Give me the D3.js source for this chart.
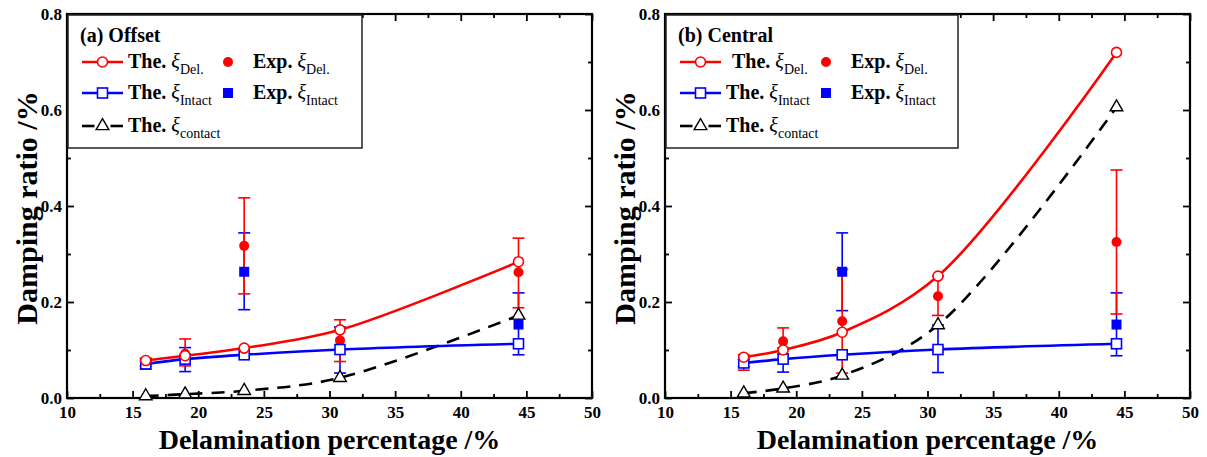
<!DOCTYPE html>
<html>
<head>
<meta charset="utf-8">
<script src="https://cdn.jsdelivr.net/npm/d3@7"></script>
<style>
  body { margin: 0; background: #fff; }
  svg text { font-family: "Liberation Serif", "Times New Roman", serif; }
</style>
</head>
<body>
<script>
// delamination percentages (x)
var delamX = [16.0, 19.0, 23.5, 30.8, 44.4];

// (a) Offset
var offTheDel = [0.078, 0.088, 0.104, 0.142, 0.284];
var offTheIntact = [0.071, 0.081, 0.090, 0.101, 0.113];
var offTheContact = [0.004, 0.008, 0.015, 0.042, 0.172];
var offExpDel = [0.075, 0.092, 0.317, 0.120, 0.262];
var offExpDelLo = [0.060, 0.067, 0.217, 0.076, 0.188];
var offExpDelHi = [0.083, 0.123, 0.417, 0.163, 0.333];
var offExpIntact = [0.071, 0.083, 0.263, 0.100, 0.153];
var offExpIntactLo = [0.066, 0.055, 0.184, 0.052, 0.090];
var offExpIntactHi = [0.078, 0.105, 0.344, 0.148, 0.219];

// (b) Central
var cenTheDel = [0.085, 0.100, 0.137, 0.254, 0.720];
var cenTheIntact = [0.073, 0.081, 0.090, 0.101, 0.113];
var cenTheContact = [0.010, 0.020, 0.047, 0.152, 0.606];
var cenExpDel = [0.082, 0.118, 0.160, 0.212, 0.325];
var cenExpDelLo = [0.058, 0.092, 0.052, 0.172, 0.175];
var cenExpDelHi = [0.090, 0.146, 0.268, 0.254, 0.475];
var cenExpIntact = [0.073, 0.082, 0.263, 0.100, 0.153];
var cenExpIntactLo = [0.065, 0.054, 0.182, 0.053, 0.088];
var cenExpIntactHi = [0.080, 0.104, 0.344, 0.152, 0.219];

var xTicks = [10, 15, 20, 25, 30, 35, 40, 45, 50];
var yTicks = [0.0, 0.2, 0.4, 0.6, 0.8];

var RED = "#ff0000", BLUE = "#0000ff";
var SERIF = "Liberation Serif, Times New Roman, serif";

var svg = d3.select("body").append("svg")
  .attr("width", 1207)
  .attr("height", 457)
  .attr("font-family", SERIF);

function zip(xs, ys) { return xs.map(function (x, i) { return [x, ys[i]]; }); }

function DrawPanel(left, title, legendW, firstRowShift, the, exp) {
  var top = 14, w = 525, h = 384;
  var g = svg.append("g").attr("transform", `translate(${left}, ${top})`);

  var x = d3.scaleLinear().domain([10, 50]).range([0, w]);
  var y = d3.scaleLinear().domain([0, 0.8]).range([h, 0]);

  // axes, ticks pointing in
  var minorX = d3.range(12.5, 50, 5);
  var minorY = [0.1, 0.3, 0.5, 0.7];

  g.append("g").attr("transform", `translate(0, ${h})`)
    .call(d3.axisBottom(x).tickValues(xTicks).tickSizeInner(-7).tickSizeOuter(0).tickPadding(8).tickFormat(d3.format("d")));
  g.append("g").attr("transform", `translate(0, ${h})`)
    .call(d3.axisBottom(x).tickValues(minorX).tickSizeInner(-4).tickSizeOuter(0).tickFormat(""));
  g.append("g").call(d3.axisTop(x).tickValues(xTicks).tickSizeInner(-7).tickSizeOuter(0).tickFormat(""));
  g.append("g").call(d3.axisTop(x).tickValues(minorX).tickSizeInner(-4).tickSizeOuter(0).tickFormat(""));

  g.append("g")
    .call(d3.axisLeft(y).tickValues(yTicks).tickSizeInner(-7).tickSizeOuter(0).tickPadding(5).tickFormat(d3.format(".1f")));
  g.append("g")
    .call(d3.axisLeft(y).tickValues(minorY).tickSizeInner(-4).tickSizeOuter(0).tickFormat(""));
  g.append("g").attr("transform", `translate(${w}, 0)`)
    .call(d3.axisRight(y).tickValues(yTicks).tickSizeInner(-7).tickSizeOuter(0).tickFormat(""));
  g.append("g").attr("transform", `translate(${w}, 0)`)
    .call(d3.axisRight(y).tickValues(minorY).tickSizeInner(-4).tickSizeOuter(0).tickFormat(""));

  g.selectAll(".domain").remove();
  g.selectAll("g").attr("font-family", SERIF);
  g.selectAll(".tick line").attr("stroke", "#000").attr("stroke-width", 1.8);
  g.selectAll(".tick text")
    .attr("font-family", SERIF)
    .attr("font-weight", "bold")
    .attr("font-size", "17px")
    .attr("fill", "#000");

  g.append("rect")
    .attr("width", w).attr("height", h)
    .attr("fill", "none").attr("stroke", "#000").attr("stroke-width", 2.2);

  // axis titles
  g.append("text")
    .attr("transform", `translate(${w / 2}, ${h + 51})`)
    .attr("text-anchor", "middle")
    .attr("font-family", SERIF)
    .attr("font-size", "28px").attr("font-weight", "bold")
    .text("Delamination percentage /%");
  g.append("text")
    .attr("transform", `translate(-30, ${h / 2 + 2}) rotate(-90)`)
    .attr("text-anchor", "middle")
    .attr("font-family", SERIF)
    .attr("font-size", "30px").attr("font-weight", "bold")
    .text("Damping ratio /%");

  // error bars
  function errBars(lo, hi, color) {
    var bars = g.append("g").attr("stroke", color).attr("stroke-width", 1.6);
    delamX.forEach(function (xv, i) {
      var px = x(xv);
      bars.append("line").attr("x1", px).attr("x2", px).attr("y1", y(lo[i])).attr("y2", y(hi[i]));
      bars.append("line").attr("x1", px - 6).attr("x2", px + 6).attr("y1", y(lo[i])).attr("y2", y(lo[i]));
      bars.append("line").attr("x1", px - 6).attr("x2", px + 6).attr("y1", y(hi[i])).attr("y2", y(hi[i]));
    });
  }
  errBars(exp.intactLo, exp.intactHi, BLUE);
  errBars(exp.delLo, exp.delHi, RED);

  g.selectAll(".expDel").data(zip(delamX, exp.del)).enter().append("circle")
    .attr("cx", d => x(d[0])).attr("cy", d => y(d[1])).attr("r", 5).attr("fill", RED);
  g.selectAll(".expInt").data(zip(delamX, exp.intact)).enter().append("rect")
    .attr("x", d => x(d[0]) - 5).attr("y", d => y(d[1]) - 5)
    .attr("width", 10).attr("height", 10).attr("fill", BLUE);

  // theory curves
  var line = d3.line().x(d => x(d[0])).y(d => y(d[1])).curve(d3.curveCatmullRom.alpha(0.5));

  g.append("path").datum(zip(delamX, the.contact)).attr("d", line)
    .attr("fill", "none").attr("stroke", "#000").attr("stroke-width", 2.6).attr("stroke-dasharray", "13,9");
  g.append("path").datum(zip(delamX, the.intact)).attr("d", line)
    .attr("fill", "none").attr("stroke", BLUE).attr("stroke-width", 2.6);
  g.append("path").datum(zip(delamX, the.del)).attr("d", line)
    .attr("fill", "none").attr("stroke", RED).attr("stroke-width", 2.6);

  var tri = d3.symbol().type(d3.symbolTriangle).size(70);
  g.selectAll(".theCon").data(zip(delamX, the.contact)).enter().append("path")
    .attr("d", tri).attr("transform", d => `translate(${x(d[0])}, ${y(d[1])})`)
    .attr("fill", "#fff").attr("stroke", "#000").attr("stroke-width", 1.4);
  g.selectAll(".theInt").data(zip(delamX, the.intact)).enter().append("rect")
    .attr("x", d => x(d[0]) - 5).attr("y", d => y(d[1]) - 5)
    .attr("width", 10).attr("height", 10)
    .attr("fill", "#fff").attr("stroke", BLUE).attr("stroke-width", 1.6);
  g.selectAll(".theDel").data(zip(delamX, the.del)).enter().append("circle")
    .attr("cx", d => x(d[0])).attr("cy", d => y(d[1])).attr("r", 5)
    .attr("fill", "#fff").attr("stroke", RED).attr("stroke-width", 1.6);

  // legend
  var lg = g.append("g");
  lg.append("rect").attr("x", 1).attr("y", 1).attr("width", legendW).attr("height", 133)
    .attr("fill", "#fff").attr("stroke", "#222").attr("stroke-width", 1.5);
  lg.append("text").attr("x", 13).attr("y", 28)
    .attr("font-family", SERIF)
    .attr("font-size", "20px").attr("font-weight", "bold").text(title);

  function xiLabel(tx, ty, word, sub) {
    var t = lg.append("text").attr("x", tx).attr("y", ty)
      .attr("font-family", SERIF).attr("font-size", "20px");
    t.append("tspan").attr("font-weight", "bold").text(word + " ");
    t.append("tspan").attr("font-style", "italic").text("ξ");
    t.append("tspan").attr("font-size", "14px").attr("dy", 6).text(sub);
  }
  var rows = [48, 79, 112];
  var lx = [15, 56];
  [RED, BLUE].forEach(function (c, i) {
    lg.append("line").attr("x1", lx[0]).attr("x2", lx[1]).attr("y1", rows[i]).attr("y2", rows[i])
      .attr("stroke", c).attr("stroke-width", 2.6);
  });
  var mx = (lx[0] + lx[1]) / 2;
  lg.append("circle").attr("cx", mx).attr("cy", rows[0]).attr("r", 5)
    .attr("fill", "#fff").attr("stroke", RED).attr("stroke-width", 1.6);
  lg.append("rect").attr("x", mx - 5).attr("y", rows[1] - 5).attr("width", 10).attr("height", 10)
    .attr("fill", "#fff").attr("stroke", BLUE).attr("stroke-width", 1.6);
  lg.append("line").attr("x1", lx[0]).attr("x2", mx - 8).attr("y1", rows[2]).attr("y2", rows[2]).attr("stroke", "#000").attr("stroke-width", 2.6);
  lg.append("line").attr("x1", mx + 8).attr("x2", lx[1]).attr("y1", rows[2]).attr("y2", rows[2]).attr("stroke", "#000").attr("stroke-width", 2.6);
  lg.append("path").attr("d", tri).attr("transform", `translate(${mx}, ${rows[2]})`)
    .attr("fill", "#fff").attr("stroke", "#000").attr("stroke-width", 1.4);

  xiLabel(61 + firstRowShift, rows[0] + 6, "The.", "Del.");
  xiLabel(61, rows[1] + 6, "The.", "Intact");
  xiLabel(61, rows[2] + 6, "The.", "contact");

  lg.append("circle").attr("cx", 161).attr("cy", rows[0]).attr("r", 5).attr("fill", RED);
  lg.append("rect").attr("x", 156).attr("y", rows[1] - 5).attr("width", 10).attr("height", 10).attr("fill", BLUE);
  xiLabel(186, rows[0] + 6, "Exp.", "Del.");
  xiLabel(186, rows[1] + 6, "Exp.", "Intact");
}

DrawPanel(67, "(a) Offset", 294, 0,
  { del: offTheDel, intact: offTheIntact, contact: offTheContact },
  { del: offExpDel, delLo: offExpDelLo, delHi: offExpDelHi,
    intact: offExpIntact, intactLo: offExpIntactLo, intactHi: offExpIntactHi });

DrawPanel(665, "(b) Central", 292, 6,
  { del: cenTheDel, intact: cenTheIntact, contact: cenTheContact },
  { del: cenExpDel, delLo: cenExpDelLo, delHi: cenExpDelHi,
    intact: cenExpIntact, intactLo: cenExpIntactLo, intactHi: cenExpIntactHi });
</script>
</body>
</html>
